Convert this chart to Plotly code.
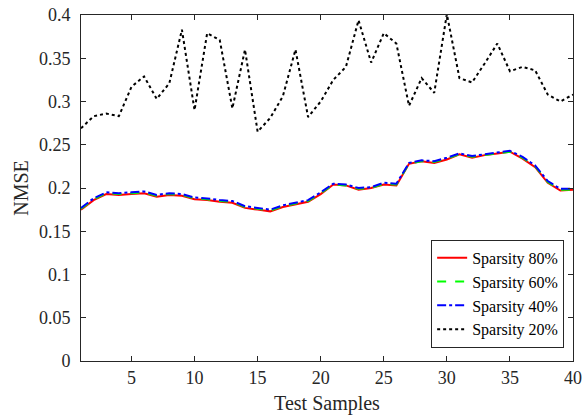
import plotly.graph_objects as go

samples = list(range(1, 41))

sp80 = [0.175, 0.186, 0.193, 0.192, 0.193, 0.194, 0.190, 0.192, 0.191, 0.187,
        0.186, 0.184, 0.183, 0.177, 0.175, 0.173, 0.178, 0.181, 0.184, 0.193,
        0.204, 0.203, 0.198, 0.200, 0.204, 0.203, 0.228, 0.231, 0.229, 0.233,
        0.239, 0.235, 0.238, 0.240, 0.242, 0.234, 0.224, 0.206, 0.197, 0.198]
sp60 = [0.176, 0.187, 0.194, 0.193, 0.194, 0.195, 0.191, 0.193, 0.192, 0.188,
        0.187, 0.185, 0.184, 0.178, 0.176, 0.174, 0.179, 0.182, 0.185, 0.194,
        0.204, 0.203, 0.199, 0.200, 0.205, 0.204, 0.228, 0.231, 0.230, 0.234,
        0.239, 0.236, 0.238, 0.240, 0.242, 0.235, 0.225, 0.207, 0.198, 0.198]
sp40 = [0.177, 0.188, 0.195, 0.194, 0.195, 0.196, 0.192, 0.194, 0.193, 0.189,
        0.188, 0.186, 0.185, 0.179, 0.177, 0.175, 0.180, 0.183, 0.186, 0.195,
        0.205, 0.204, 0.200, 0.201, 0.206, 0.205, 0.229, 0.232, 0.231, 0.235,
        0.240, 0.237, 0.239, 0.241, 0.243, 0.236, 0.226, 0.208, 0.199, 0.199]
sp20 = [0.269, 0.283, 0.286, 0.283, 0.317, 0.329, 0.303, 0.321, 0.383, 0.290,
        0.379, 0.371, 0.292, 0.360, 0.265, 0.281, 0.306, 0.360, 0.282, 0.300,
        0.325, 0.340, 0.394, 0.345, 0.379, 0.367, 0.295, 0.327, 0.310, 0.401,
        0.327, 0.322, 0.344, 0.367, 0.335, 0.340, 0.336, 0.308, 0.300, 0.308]

names = ["Sparsity 80%", "Sparsity 60%", "Sparsity 40%", "Sparsity 20%"]
xtick_vals = [5, 10, 15, 20, 25, 30, 35, 40]
ytick_vals = [0, 0.05, 0.1, 0.15, 0.2, 0.25, 0.3, 0.35, 0.4]
ytick_text = ["0", "0.05", "0.1", "0.15", "0.2", "0.25", "0.3", "0.35", "0.4"]

FONT = "Liberation Serif"
AX = "#262626"

fig = go.Figure()
styles = [("#ff0000", "solid"), ("#00ff00", "dash"), ("#0000ff", "dashdot"), ("#000000", "dot")]
for name, ys, (c, d) in zip(names, [sp80, sp60, sp40, sp20], styles):
    fig.add_trace(go.Scatter(x=samples, y=ys, mode="lines", name=name,
                             line=dict(color=c, dash=d, width=2)))

axis_common = dict(showline=True, linecolor=AX, linewidth=1, mirror="ticks",
                   ticks="inside", ticklen=5, tickcolor=AX, showgrid=False,
                   zeroline=False, automargin=False,
                   tickfont=dict(family=FONT, size=18, color="#262626"))

fig.update_layout(
    width=584, height=416,
    margin=dict(l=81, r=11, t=15, b=55),
    paper_bgcolor="white", plot_bgcolor="white",
    font=dict(family=FONT, size=18, color="#262626"),
    xaxis=dict(range=[1, 40], tickvals=xtick_vals,
               title=dict(text="Test Samples", font=dict(family=FONT, size=20), standoff=9),
               **axis_common),
    yaxis=dict(range=[0, 0.4], tickvals=ytick_vals, ticktext=ytick_text,
               ticklabelstandoff=6,
               title=dict(text="NMSE", font=dict(family=FONT, size=20), standoff=4),
               **axis_common),
    legend=dict(x=0.982, y=0.038, xanchor="right", yanchor="bottom",
                bgcolor="white", bordercolor=AX, borderwidth=1,
                font=dict(family=FONT, size=16, color="#000"),
                tracegroupgap=0, itemwidth=30),
    showlegend=True,
)

fig.write_html("out.html", config={"displayModeBar": False},
               post_script="document.body.style.margin='0px';document.body.style.overflow='hidden';")
